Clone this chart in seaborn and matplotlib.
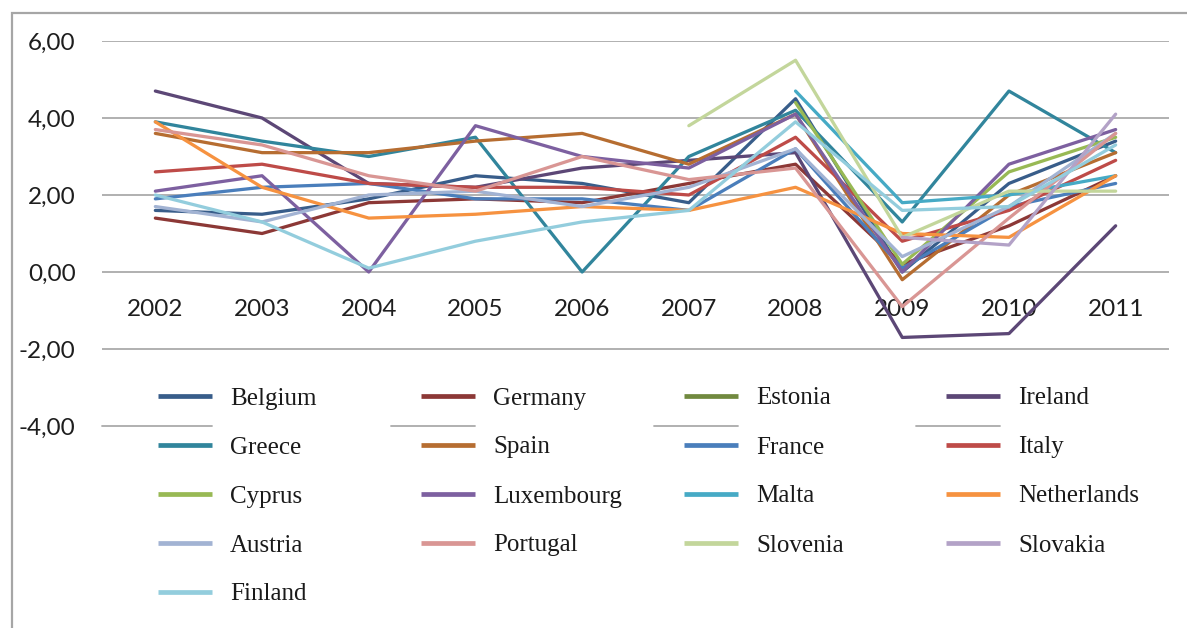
import numpy as np
import pandas as pd
import matplotlib
matplotlib.use("Agg")
import matplotlib.pyplot as plt
from matplotlib.lines import Line2D
from matplotlib.patches import Rectangle
import seaborn as sns

nan = np.nan

# ---- data -------------------------------------------------------------
years = [2002, 2003, 2004, 2005, 2006, 2007, 2008, 2009, 2010, 2011]

countries = ["Belgium", "Germany", "Estonia", "Ireland", "Greece", "Spain",
             "France", "Italy", "Cyprus", "Luxembourg", "Malta", "Netherlands",
             "Austria", "Portugal", "Slovenia", "Slovakia", "Finland"]

belgium     = [1.6, 1.5, 1.9, 2.5, 2.3, 1.8, 4.5, 0.0, 2.3, 3.4]
germany     = [1.4, 1.0, 1.8, 1.9, 1.8, 2.3, 2.8, 0.2, 1.2, 2.5]
estonia     = [nan, nan, nan, nan, nan, nan, nan, nan, nan, 5.1]
ireland     = [4.7, 4.0, 2.3, 2.2, 2.7, 2.9, 3.1, -1.7, -1.6, 1.2]
greece      = [3.9, 3.4, 3.0, 3.5, 0.0, 3.0, 4.2, 1.3, 4.7, 3.1]
spain       = [3.6, 3.1, 3.1, 3.4, 3.6, 2.8, 4.1, -0.2, 2.0, 3.1]
france      = [1.9, 2.2, 2.3, 1.9, 1.9, 1.6, 3.2, 0.1, 1.7, 2.3]
italy       = [2.6, 2.8, 2.3, 2.2, 2.2, 2.0, 3.5, 0.8, 1.6, 2.9]
cyprus      = [nan, nan, nan, nan, nan, nan, 4.4, 0.2, 2.6, 3.5]
luxembourg  = [2.1, 2.5, 0.0, 3.8, 3.0, 2.7, 4.1, 0.0, 2.8, 3.7]
malta       = [nan, nan, nan, nan, nan, nan, 4.7, 1.8, 2.0, 2.5]
netherlands = [3.9, 2.2, 1.4, 1.5, 1.7, 1.6, 2.2, 1.0, 0.9, 2.5]
austria     = [1.7, 1.3, 2.0, 2.1, 1.7, 2.2, 3.2, 0.4, 1.7, 3.6]
portugal    = [3.7, 3.3, 2.5, 2.1, 3.0, 2.4, 2.7, -0.9, 1.4, 3.6]
slovenia    = [nan, nan, nan, nan, nan, 3.8, 5.5, 0.9, 2.1, 2.1]
slovakia    = [nan, nan, nan, nan, nan, nan, nan, 0.9, 0.7, 4.1]
finland     = [2.0, 1.3, 0.1, 0.8, 1.3, 1.6, 3.9, 1.6, 1.7, 3.3]

series = [belgium, germany, estonia, ireland, greece, spain, france, italy,
          cyprus, luxembourg, malta, netherlands, austria, portugal,
          slovenia, slovakia, finland]

colors = ["#385D8A", "#8C3836", "#71893F", "#5C4776", "#31859C", "#B66D31",
          "#4A7EBB", "#BE4B48", "#98B954", "#7D60A0", "#46AAC5", "#F69240",
          "#A2B3D3", "#D99694", "#C3D69B", "#B3A2C7", "#93CDDD"]

y_ticks = [-4, -2, 0, 2, 4, 6]

# ---- long-form table ---------------------------------------------------
rows = []
for name, vals in zip(countries, series):
    for yr, v in zip(years, vals):
        rows.append({"year": yr, "value": v, "country": name})
df = pd.DataFrame(rows).dropna()
palette = dict(zip(countries, colors))

# ---- figure ------------------------------------------------------------
sns.set_style("white")
W, H = 1187, 628
fig = plt.figure(figsize=(W / 100, H / 100), dpi=100)
fig.patch.set_facecolor("white")

ax_l, ax_r, ax_t, ax_b = 102, 1169, 41, 426
ax = fig.add_axes([ax_l / W, 1 - ax_b / H, (ax_r - ax_l) / W, (ax_b - ax_t) / H])

sns.lineplot(data=df, x="year", y="value", hue="country", hue_order=countries,
             palette=palette, linewidth=2.35, legend=False, ax=ax,
             zorder=3, estimator=None, sort=True)

ax.set_xlim(years[0] - 0.5, years[-1] + 0.5)
ax.set_ylim(y_ticks[0], y_ticks[-1])
for s in ax.spines.values():
    s.set_visible(False)

# horizontal gridlines (the lowest one is only visible beside the key)
grid_kw = dict(color="#AAAAAA", linewidth=1.3, zorder=1)
for t in y_ticks[1:]:
    ax.axhline(t, **grid_kw)

# y tick labels
ax.set_yticks(y_ticks)
ax.set_yticklabels([f"{t:.2f}".replace(".", ",") for t in y_ticks])
ax.tick_params(axis="y", length=0, pad=19, labelsize=17.5, labelcolor="#1E1E1E")

# x tick labels just under the zero line
ax.spines["bottom"].set_position(("data", 0))
ax.set_xticks(years)
ax.set_xticklabels([str(y) for y in years])
ax.tick_params(axis="x", length=0, pad=19.5, labelsize=17.5, labelcolor="#1E1E1E")
for lab in ax.get_xticklabels() + ax.get_yticklabels():
    lab.set_fontfamily("Lato")
ax.set_xlabel("")
ax.set_ylabel("")

# ---- key in four columns ---------------------------------------------
col_x = [158, 421, 684, 946]          # left edge of each column's swatch
key_top = 387
hl_px = 54
fs = 18
handles = [Line2D([], [], color=c, linewidth=3.4, solid_capstyle="butt") for c in colors]
ncol = 4
for ci in range(ncol):
    idx = list(range(ci, len(countries), ncol))
    leg = fig.legend([handles[i] for i in idx], [countries[i] for i in idx],
                     loc="upper left",
                     bbox_to_anchor=(col_x[ci] / W, 1 - key_top / H),
                     bbox_transform=fig.transFigure,
                     frameon=False, borderpad=0, borderaxespad=0,
                     handlelength=hl_px / (fs * 100 / 72), handletextpad=0.72,
                     labelspacing=1.06,
                     prop={"family": "Liberation Serif", "size": fs})
    for txt in leg.get_texts():
        txt.set_color("#1A1A1A")

# short pieces of the -4 gridline left of each first-row swatch
seg_start = [ax_l, 391, 654, 916]
for xs, xc in zip(seg_start, col_x):
    xe = xc + hl_px
    ax.axhline(y_ticks[0], xmin=(xs - ax_l) / (ax_r - ax_l),
               xmax=(xe - ax_l) / (ax_r - ax_l), clip_on=False, **grid_kw)

# chart border
fig.add_artist(Rectangle((12 / W, -0.1), 1.2, 1 - 13 / H + 0.1,
                         transform=fig.transFigure, fill=False,
                         edgecolor="#A6A6A6", linewidth=1.6))

fig.savefig("out.png", dpi=100, facecolor="white")
